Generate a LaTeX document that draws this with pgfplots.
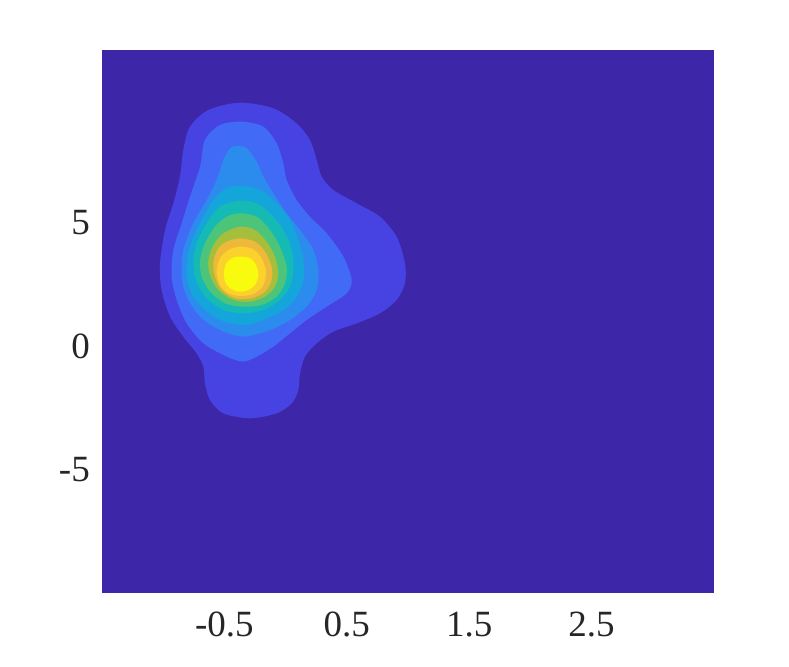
\documentclass[border=0pt]{standalone}
\usepackage{fontspec}
\setmainfont{Liberation Serif}
\usepackage{pgfplots}
\pgfplotsset{compat=1.18}
\definecolor{c0}{RGB}{62,38,168}
\definecolor{c1}{RGB}{71,66,226}
\definecolor{c2}{RGB}{65,106,247}
\definecolor{c3}{RGB}{44,140,238}
\definecolor{c4}{RGB}{20,166,218}
\definecolor{c5}{RGB}{22,186,180}
\definecolor{c6}{RGB}{76,196,122}
\definecolor{c7}{RGB}{165,191,60}
\definecolor{c8}{RGB}{238,184,58}
\definecolor{c9}{RGB}{251,210,44}
\definecolor{c10}{RGB}{249,251,14}
\begin{document}
\begin{tikzpicture}
\path[use as bounding box] (0,0) rectangle (789pt,666pt);
\begin{axis}[
  at={(102pt,73.3pt)}, anchor=south west,
  scale only axis, width=612pt, height=542.7pt,
  xmin=-1.5, xmax=3.5, ymin=-10, ymax=12,
  axis background/.style={fill=c0},
  axis line style={draw=none},
  major tick length=0pt,
  xtick={-0.5,0.5,1.5,2.5}, xticklabels={-0.5,0.5,1.5,2.5},
  ytick={-5,0,5}, yticklabels={-5,0,5},
  tick label style={font=\fontsize{37}{44}\selectfont, inner sep=0pt, text=black!85},
  xticklabel style={anchor=north, yshift=-19pt},
  yticklabel style={anchor=east, xshift=-12pt},
]
\addplot[fill=c1, draw=none, smooth cycle] coordinates {
(-0.631,9.568) (-0.373,9.865) (-0.100,9.635) (0.090,9.027) (0.199,8.352) (0.254,7.541) (0.295,6.866) (0.390,6.325) (0.581,5.785) (0.771,5.244) (0.907,4.434) (0.975,3.353) (0.975,2.542) (0.907,1.866) (0.771,1.326) (0.581,0.920) (0.390,0.582) (0.254,0.110) (0.158,-0.431) (0.118,-1.106) (0.104,-1.782) (0.050,-2.322) (-0.073,-2.728) (-0.291,-2.931) (-0.509,-2.728) (-0.618,-2.187) (-0.659,-1.512) (-0.672,-0.836) (-0.727,-0.296) (-0.836,0.380) (-0.944,1.191) (-1.013,2.272) (-1.026,3.353) (-0.985,4.704) (-0.917,5.785) (-0.863,6.866) (-0.836,7.947) (-0.781,8.892)
};
\addplot[fill=c2, draw=none, smooth cycle] coordinates {
(-0.359,9.095) (-0.182,8.892) (-0.073,8.217) (-0.019,7.406) (0.009,6.731) (0.090,5.920) (0.199,5.244) (0.336,4.569) (0.472,3.623) (0.540,2.677) (0.499,2.136) (0.336,1.596) (0.172,1.055) (0.036,0.515) (-0.100,-0.025) (-0.236,-0.431) (-0.345,-0.633) (-0.481,-0.431) (-0.672,0.110) (-0.808,0.920) (-0.890,1.866) (-0.931,2.812) (-0.917,3.893) (-0.849,4.974) (-0.781,6.055) (-0.699,7.271) (-0.659,8.352) (-0.536,8.960)
};
\addplot[fill=c3, draw=none, smooth cycle] coordinates {
(-0.400,8.109) (-0.318,8.014) (-0.236,7.474) (-0.182,6.866) (-0.100,6.190) (0.009,5.379) (0.118,4.704) (0.227,3.893) (0.267,3.082) (0.254,2.272) (0.172,1.596) (0.036,1.055) (-0.127,0.650) (-0.345,0.380) (-0.536,0.650) (-0.699,1.191) (-0.808,2.001) (-0.849,2.812) (-0.836,3.893) (-0.754,4.974) (-0.645,5.920) (-0.563,6.731) (-0.509,7.541) (-0.454,8.014)
};
\addplot[fill=c4, draw=none, smooth cycle] coordinates {
(-0.373,6.487) (-0.209,6.325) (-0.073,5.785) (0.036,5.109) (0.104,4.299) (0.145,3.488) (0.145,2.677) (0.090,2.001) (-0.019,1.461) (-0.182,1.055) (-0.345,0.853) (-0.536,1.055) (-0.686,1.596) (-0.781,2.272) (-0.808,3.082) (-0.781,4.028) (-0.699,4.974) (-0.590,5.920) (-0.481,6.393)
};
\addplot[fill=c5, draw=none, smooth cycle] coordinates {
(-0.373,5.893) (-0.236,5.785) (-0.127,5.379) (-0.019,4.704) (0.050,3.893) (0.063,3.082) (0.036,2.407) (-0.046,1.866) (-0.182,1.461) (-0.345,1.326) (-0.509,1.461) (-0.645,1.934) (-0.727,2.609) (-0.754,3.353) (-0.727,4.163) (-0.645,4.974) (-0.536,5.650)
};
\addplot[fill=c6, draw=none, smooth cycle] coordinates {
(-0.373,5.379) (-0.236,5.244) (-0.127,4.704) (-0.046,4.028) (0.009,3.218) (-0.005,2.542) (-0.073,2.001) (-0.196,1.664) (-0.345,1.596) (-0.495,1.731) (-0.618,2.204) (-0.686,2.812) (-0.699,3.488) (-0.659,4.163) (-0.577,4.839) (-0.481,5.244)
};
\addplot[fill=c7, draw=none, smooth cycle] coordinates {
(-0.373,4.839) (-0.250,4.704) (-0.155,4.231) (-0.087,3.623) (-0.059,2.947) (-0.087,2.407) (-0.168,2.001) (-0.291,1.799) (-0.427,1.866) (-0.550,2.272) (-0.618,2.880) (-0.631,3.488) (-0.590,4.096) (-0.509,4.569)
};
\addplot[fill=c8, draw=none, smooth cycle] coordinates {
(-0.373,4.366) (-0.250,4.231) (-0.168,3.825) (-0.114,3.218) (-0.114,2.677) (-0.168,2.204) (-0.277,1.934) (-0.413,1.934) (-0.522,2.272) (-0.577,2.812) (-0.590,3.420) (-0.550,3.961) (-0.481,4.231)
};
\addplot[fill=c9, draw=none, smooth cycle] coordinates {
(-0.373,4.028) (-0.264,3.920) (-0.196,3.555) (-0.160,3.015) (-0.182,2.474) (-0.250,2.136) (-0.359,2.028) (-0.468,2.136) (-0.536,2.474) (-0.563,3.015) (-0.536,3.555) (-0.468,3.893)
};
\addplot[fill=c10, draw=none, smooth cycle] coordinates {
(-0.373,3.623) (-0.291,3.555) (-0.242,3.285) (-0.223,2.880) (-0.250,2.474) (-0.318,2.245) (-0.386,2.204) (-0.454,2.339) (-0.495,2.609) (-0.503,3.015) (-0.481,3.380) (-0.427,3.582)
};
\end{axis}
\end{tikzpicture}
\end{document}
